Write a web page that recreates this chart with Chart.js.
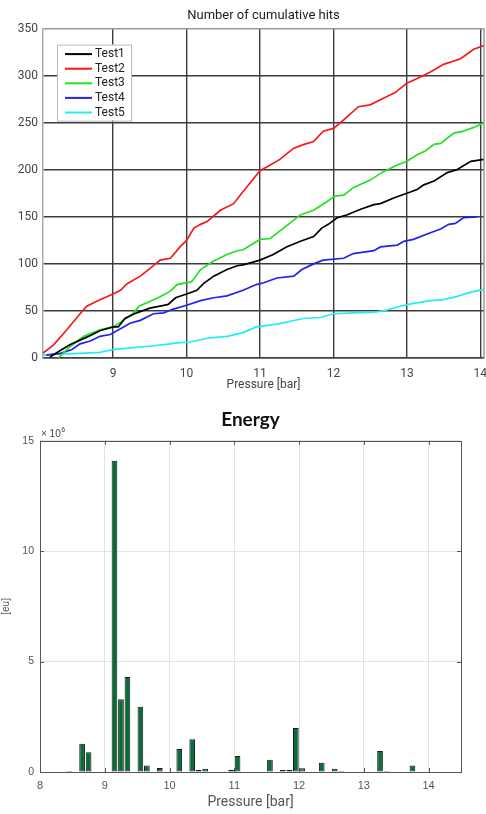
<!DOCTYPE html>
<html>
<head>
<meta charset="utf-8">
<script src="https://cdn.jsdelivr.net/npm/chart.js@4.4.1/dist/chart.umd.min.js"></script>
<style>
  html, body { margin: 0; padding: 0; background: #fff; }
  #wrap { position: relative; width: 486px; height: 814px; }
  canvas { position: absolute; left: 0; }
  #hits { top: 0; }
  #energy { top: 395px; }
</style>
</head>
<body>
<div id="wrap">
  <canvas id="hits" width="486" height="392"></canvas>
  <canvas id="energy" width="486" height="419"></canvas>
</div>
<script>
// cumulative hits (pressure in bar, hits)
const test1Pressure = [8.14, 8.28, 8.41, 8.55, 8.69, 8.82, 9.0, 9.07, 9.16, 9.32, 9.5, 9.69, 9.75, 9.85, 10.0, 10.14, 10.23, 10.37, 10.55, 10.69, 10.77, 11.0, 11.18, 11.36, 11.55, 11.73, 11.84, 11.93, 12.05, 12.18, 12.37, 12.55, 12.64, 12.82, 13.0, 13.14, 13.23, 13.37, 13.55, 13.68, 13.87, 14.05];
const test1Hits = [1, 8, 14, 19, 24, 29, 33, 33, 42, 48, 53, 56, 57, 64, 68, 72, 79, 87, 94, 98, 99, 104, 110, 118, 124, 129, 138, 142, 149, 152, 158, 163, 164, 170, 175, 179, 184, 188, 197, 200, 209, 211];

const test2Pressure = [8.04, 8.19, 8.37, 8.55, 8.64, 8.82, 9.0, 9.1, 9.19, 9.37, 9.5, 9.64, 9.78, 9.91, 10.0, 10.1, 10.19, 10.28, 10.46, 10.64, 10.77, 11.0, 11.14, 11.27, 11.46, 11.6, 11.73, 11.86, 12.0, 12.14, 12.34, 12.5, 12.68, 12.84, 13.0, 13.14, 13.32, 13.5, 13.73, 13.91, 14.05];
const test2Hits = [5, 14, 30, 47, 55, 62, 68, 72, 79, 87, 95, 104, 106, 118, 125, 138, 142, 145, 157, 164, 177, 199, 205, 211, 223, 227, 230, 241, 244, 253, 267, 269, 276, 282, 292, 297, 304, 312, 318, 328, 332];

const test3Pressure = [8.25, 8.41, 8.6, 8.82, 9.0, 9.14, 9.28, 9.35, 9.5, 9.64, 9.78, 9.87, 10.0, 10.07, 10.19, 10.37, 10.55, 10.69, 10.77, 11.0, 11.14, 11.32, 11.55, 11.73, 11.91, 12.02, 12.14, 12.27, 12.5, 12.68, 12.87, 13.0, 13.14, 13.25, 13.37, 13.46, 13.64, 13.77, 13.91, 14.05];
const test3Hits = [0, 12, 23, 30, 33, 40, 48, 55, 60, 65, 71, 78, 80, 81, 94, 103, 110, 114, 115, 126, 127, 138, 152, 157, 166, 172, 173, 181, 189, 198, 205, 209, 216, 220, 227, 228, 239, 241, 245, 250];

const test4Pressure = [8.09, 8.28, 8.44, 8.55, 8.69, 8.82, 8.96, 9.1, 9.23, 9.37, 9.55, 9.69, 9.82, 10.0, 10.19, 10.37, 10.55, 10.77, 10.95, 11.05, 11.23, 11.46, 11.57, 11.73, 11.86, 12.14, 12.27, 12.55, 12.64, 12.87, 12.96, 13.09, 13.32, 13.46, 13.57, 13.66, 13.77, 13.96];
const test4Hits = [3, 5, 9, 15, 18, 23, 25, 31, 37, 40, 47, 48, 52, 56, 61, 64, 66, 72, 78, 80, 85, 87, 94, 100, 104, 106, 111, 114, 118, 120, 124, 126, 133, 137, 142, 143, 149, 150];

const test5Pressure = [8.04, 8.19, 8.55, 8.82, 9.0, 9.28, 9.55, 9.78, 9.87, 10.05, 10.28, 10.55, 10.77, 10.95, 11.23, 11.59, 11.82, 12.0, 12.27, 12.59, 12.73, 12.91, 13.09, 13.32, 13.5, 13.66, 13.87, 14.05];
const test5Hits = [3, 4, 5, 6, 9, 11, 13, 15, 16, 17, 21, 23, 27, 33, 36, 42, 43, 47, 48, 49, 51, 55, 58, 61, 62, 65, 70, 73];

const testLabels = ['Test1', 'Test2', 'Test3', 'Test4', 'Test5'];
const hitsTicksX = [9, 10, 11, 12, 13, 14];

// energy histogram, bin centres in bar, energy in eu
const energyBins = [8.45, 8.65, 8.75, 9.15, 9.25, 9.35, 9.55, 9.65, 9.85, 10.15, 10.35, 10.45, 10.55, 10.95, 11.05, 11.55, 11.75, 11.85, 11.95, 12.05, 12.35, 12.55, 12.65, 13.25, 13.35, 13.75];
const energyEu = [0.05e6, 1.28e6, 0.9e6, 14.1e6, 3.3e6, 4.3e6, 2.96e6, 0.29e6, 0.18e6, 1.04e6, 1.48e6, 0.09e6, 0.15e6, 0.1e6, 0.72e6, 0.56e6, 0.09e6, 0.09e6, 1.99e6, 0.17e6, 0.42e6, 0.15e6, 0.05e6, 0.95e6, 0.04e6, 0.29e6];
const energyTicksX = [8, 9, 10, 11, 12, 13, 14];

const lineColors = ['#000000', '#f41a1a', '#22e022', '#2222ee', '#22eef0'];

function toPoints(xs, ys) {
    return xs.map((x, i) => ({ x: x, y: ys[i] }));
}

const hitSeries = [
    toPoints(test1Pressure, test1Hits),
    toPoints(test2Pressure, test2Hits),
    toPoints(test3Pressure, test3Hits),
    toPoints(test4Pressure, test4Hits),
    toPoints(test5Pressure, test5Hits)
];

// boxed legend in the top-left corner, MATLAB style
const boxLegend = {
    id: 'boxLegend',
    afterDraw(chart) {
        const ctx = chart.ctx;
        const area = chart.chartArea;
        // right edge of the axes box
        ctx.save();
        ctx.strokeStyle = '#999';
        ctx.lineWidth = 1.5;
        ctx.beginPath();
        ctx.moveTo(area.right, area.top);
        ctx.lineTo(area.right, area.bottom);
        ctx.stroke();

        const x = area.left + 14;
        const y = area.top + 16;
        ctx.fillStyle = '#fff';
        ctx.fillRect(x, y, 74, 76);
        ctx.strokeStyle = '#bbb';
        ctx.lineWidth = 1;
        ctx.strokeRect(x + 0.5, y + 0.5, 74, 76);
        ctx.font = '12px Roboto';
        ctx.textBaseline = 'middle';
        chart.data.datasets.forEach((ds, i) => {
            const ly = y + 9.5 + i * 14.6;
            ctx.strokeStyle = ds.borderColor;
            ctx.lineWidth = 2;
            ctx.beginPath();
            ctx.moveTo(x + 8, ly);
            ctx.lineTo(x + 35, ly);
            ctx.stroke();
            ctx.fillStyle = '#222';
            ctx.fillText(ds.label, x + 38, ly);
        });
        ctx.restore();
    }
};

new Chart(document.getElementById('hits').getContext('2d'), {
    type: 'line',
    data: {
        datasets: hitSeries.map((pts, i) => ({
            label: testLabels[i],
            data: pts,
            borderColor: lineColors[i],
            backgroundColor: lineColors[i],
            borderWidth: 1.7,
            pointRadius: 0,
            tension: 0
        }))
    },
    options: {
        responsive: false,
        animation: false,
        layout: { padding: { left: 0, right: 2, top: 0, bottom: 0 } },
        plugins: {
            legend: { display: false },
            tooltip: { enabled: false },
            title: {
                display: true,
                text: 'Number of cumulative hits',
                fullSize: false,
                color: '#222',
                font: { family: 'Roboto', size: 13, weight: 'normal' },
                padding: { top: 8, bottom: 5 }
            }
        },
        scales: {
            x: {
                type: 'linear',
                min: 8.045,
                max: 14.05,
                afterBuildTicks: (scale) => { scale.ticks = hitsTicksX.map(v => ({ value: v })); },
                afterFit: (scale) => { scale.height = 34; scale.paddingRight = 0; scale.paddingLeft = 0; },
                grid: { color: '#3c3c3c', lineWidth: 1.4, drawTicks: false },
                border: { color: '#444', width: 1.5 },
                ticks: { color: '#444', font: { family: 'Roboto', size: 12 }, padding: 9, maxRotation: 0 },
                title: {
                    display: true,
                    text: 'Pressure [bar]',
                    color: '#444',
                    font: { family: 'Roboto', size: 12 },
                    padding: { top: 0, bottom: 0 }
                }
            },
            y: {
                min: 0,
                max: 350,
                afterFit: (scale) => { scale.width = 43; },
                grid: {
                    color: (c) => (c.tick && c.tick.value === 350 ? '#999' : '#3c3c3c'),
                    lineWidth: 1.4,
                    drawTicks: false
                },
                border: { color: '#aaa', width: 1.5 },
                ticks: { stepSize: 50, color: '#444', font: { family: 'Roboto', size: 12 }, padding: 5 }
            }
        }
    },
    plugins: [boxLegend]
});

// box, inward tick marks and the x10^6 exponent for the energy axes
const energyFrame = {
    id: 'energyFrame',
    afterDraw(chart) {
        const ctx = chart.ctx;
        const area = chart.chartArea;
        const xs = chart.scales.x;
        const ys = chart.scales.y;
        ctx.save();
        ctx.strokeStyle = '#555';
        ctx.lineWidth = 1;
        ctx.strokeRect(Math.round(area.left) + 0.5, Math.round(area.top) + 0.5,
            Math.round(area.right - area.left), Math.round(area.bottom - area.top));
        ctx.beginPath();
        xs.ticks.forEach(t => {
            const px = Math.round(xs.getPixelForValue(t.value)) + 0.5;
            ctx.moveTo(px, area.top); ctx.lineTo(px, area.top + 4);
            ctx.moveTo(px, area.bottom); ctx.lineTo(px, area.bottom - 4);
        });
        ys.ticks.forEach(t => {
            const py = Math.round(ys.getPixelForValue(t.value)) + 0.5;
            ctx.moveTo(area.left, py); ctx.lineTo(area.left + 4, py);
            ctx.moveTo(area.right, py); ctx.lineTo(area.right - 4, py);
        });
        ctx.stroke();
        ctx.fillStyle = '#444';
        ctx.textBaseline = 'alphabetic';
        ctx.font = '10px "Liberation Sans"';
        const base = '× 10';
        ctx.fillText(base, area.left + 1, area.top - 4);
        const w = ctx.measureText(base).width;
        ctx.font = '7px "Liberation Sans"';
        ctx.fillText('6', area.left + 1 + w + 0.5, area.top - 9);
        ctx.restore();
    }
};

new Chart(document.getElementById('energy').getContext('2d'), {
    type: 'bar',
    data: {
        datasets: [{
            label: 'Energy',
            data: toPoints(energyBins, energyEu),
            backgroundColor: '#0b6b38',
            borderColor: '#1a1a1a',
            borderWidth: 1,
            borderSkipped: false,
            barPercentage: 0.88,
            categoryPercentage: 1
        }]
    },
    options: {
        responsive: false,
        animation: false,
        layout: { padding: { left: 0, right: 25, top: 0, bottom: 0 } },
        plugins: {
            legend: { display: false },
            tooltip: { enabled: false },
            title: {
                display: true,
                text: 'Energy',
                fullSize: false,
                color: '#111',
                font: { family: 'Lato', size: 19, weight: 'bold' },
                padding: { top: 13, bottom: 10 }
            }
        },
        scales: {
            x: {
                type: 'linear',
                min: 8,
                max: 14.5,
                offset: false,
                afterBuildTicks: (scale) => { scale.ticks = energyTicksX.map(v => ({ value: v })); },
                afterFit: (scale) => { scale.height = 42; },
                grid: { color: '#e4e4e4', lineWidth: 1, drawTicks: false, offset: false },
                border: { display: false },
                ticks: { color: '#555', font: { family: 'Liberation Sans', size: 11 }, padding: 7, maxRotation: 0 },
                title: {
                    display: true,
                    text: 'Pressure [bar]',
                    color: '#555',
                    font: { family: 'Roboto', size: 14 },
                    padding: { top: 0, bottom: 3 }
                }
            },
            y: {
                min: 0,
                max: 15e6,
                afterFit: (scale) => { scale.width = 40; },
                grid: { color: '#e4e4e4', lineWidth: 1, drawTicks: false },
                border: { display: false },
                ticks: {
                    stepSize: 5e6,
                    color: '#555',
                    font: { family: 'Liberation Sans', size: 10.5 },
                    padding: 6,
                    callback: (v) => String(v / 1e6)
                },
                title: {
                    display: true,
                    text: '[eu]',
                    color: '#555',
                    font: { family: 'Liberation Sans', size: 10 },
                    padding: { top: 0, bottom: 0 }
                }
            }
        }
    },
    plugins: [energyFrame]
});
</script>
</body>
</html>
